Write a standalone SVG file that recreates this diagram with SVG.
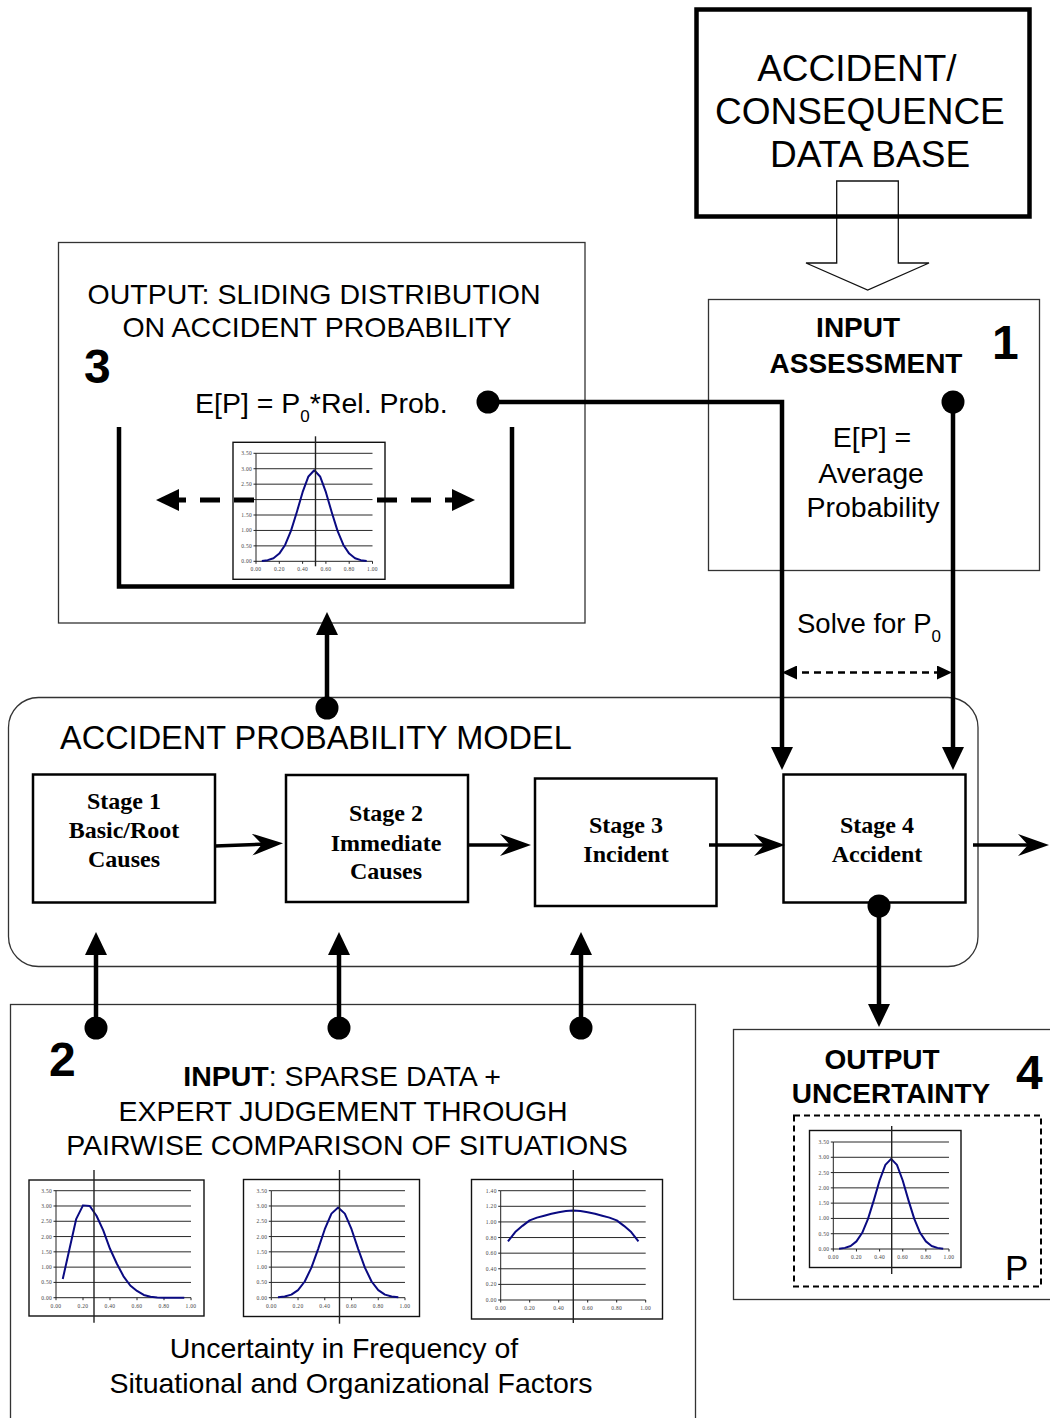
<svg xmlns="http://www.w3.org/2000/svg" width="1050" height="1418" viewBox="0 0 1050 1418">
  <style>
    .sans { font-family: "Liberation Sans", Arial, sans-serif; fill: #000; }
    .bold { font-weight: bold; }
    .stage-txt { font-family: "Liberation Serif", "Times New Roman", serif; font-weight: bold; font-size: 24px; fill: #000; text-anchor: middle; }
    .box { fill: none; stroke: #333; stroke-width: 1.3; }
    .stage { fill: #fff; stroke: #000; stroke-width: 2.5; }
    .conn { fill: none; stroke: #000; stroke-width: 4.5; }
    .flow { fill: none; stroke: #000; stroke-width: 3.5; marker-end: url(#barb); }
    .dot { fill: #000; }
    .frame { fill: #fff; stroke: #111; stroke-width: 1.4; }
    .grid { fill: none; stroke: #111; stroke-width: 0.9; }
    .axis { fill: none; stroke: #222; stroke-width: 1; }
    .mean { stroke: #222; stroke-width: 1.4; }
    .curve { fill: none; stroke: #0a0a82; stroke-width: 2; stroke-linejoin: round; vector-effect: non-scaling-stroke; }
    .lbl { font-family: "Liberation Serif", "Times New Roman", serif; font-size: 5.5px; fill: #444; letter-spacing: 0.3px; }
    .ly { text-anchor: end; }
    .lx { text-anchor: middle; }
  </style>
  <defs>
    <!-- solid triangular head for the thick connectors -->
    <marker id="head" viewBox="0 0 23 22" refX="11" refY="11" markerWidth="23" markerHeight="22" markerUnits="userSpaceOnUse" orient="auto">
      <path d="M0,0 L23,11 L0,22 Z" fill="#000"/>
    </marker>
    <!-- notched head for the stage-to-stage flow -->
    <marker id="barb" viewBox="0 0 31 22" refX="14" refY="11" markerWidth="31" markerHeight="22" markerUnits="userSpaceOnUse" orient="auto">
      <path d="M0,0 L31,11 L0,22 L10,11 Z" fill="#000"/>
    </marker>
    <!-- small head for the dashed "solve for" span -->
    <marker id="small" viewBox="0 0 15 14" refX="7" refY="7" markerWidth="15" markerHeight="14" markerUnits="userSpaceOnUse" orient="auto-start-reverse">
      <path d="M0,0 L15,7 L0,14 Z" fill="#000"/>
    </marker>
  </defs>

  <!-- Accident / consequence data base feeding the input assessment -->
  <g id="database">
    <polygon points="836.7,181 898.3,181 898.3,263 929,263 867.7,290 806,263 836.7,263" fill="#fff" stroke="#111" stroke-width="1.3"/>
    <rect x="696.5" y="9.5" width="333" height="207" fill="none" stroke="#000" stroke-width="4.5"/>
    <text class="sans" font-size="37" text-anchor="middle">
      <tspan x="862" y="81">ACCIDENT/</tspan>
      <tspan x="865" y="124">CONSEQUENCE</tspan>
      <tspan x="870" y="167">DATA BASE</tspan>
    </text>
  </g>

  <!-- 1: input assessment -->
  <g id="input-assessment">
    <rect class="box" x="708.5" y="299.5" width="331" height="271"/>
    <text class="sans bold" font-size="28" text-anchor="middle">
      <tspan x="862" y="337">INPUT</tspan>
      <tspan x="866" y="373">ASSESSMENT</tspan>
    </text>
    <text class="sans bold" font-size="48" x="992" y="359">1</text>
    <text class="sans" font-size="28.5" text-anchor="middle">
      <tspan x="876" y="447">E[P] =</tspan>
      <tspan x="875" y="483">Average</tspan>
      <tspan x="873" y="517">Probability</tspan>
    </text>
  </g>

  <!-- 3: output, sliding distribution -->
  <g id="output-sliding">
    <rect class="box" x="58.5" y="242.5" width="526.5" height="380.5"/>
    <text class="sans" font-size="28.5" text-anchor="middle">
      <tspan x="318" y="304">OUTPUT: SLIDING DISTRIBUTION</tspan>
      <tspan x="317" y="337">ON ACCIDENT PROBABILITY</tspan>
    </text>
    <text class="sans bold" font-size="48" x="84" y="383">3</text>
    <text class="sans" font-size="28.5" x="195" y="413">E[P] = P<tspan font-size="17" dy="9">0</tspan><tspan dy="-9">*Rel. Prob.</tspan></text>
    <path d="M119,427 V586.5 H512 V427" fill="none" stroke="#000" stroke-width="4.5"/>

    <g id="chart-sliding" transform="translate(256,561.3)">
      <rect class="frame" x="-23" y="-119" width="152" height="137"/>
      <path class="grid" d="M0,-15.43H116.5 M0,-30.86H116.5 M0,-46.29H116.5 M0,-61.71H116.5 M0,-77.14H116.5 M0,-92.57H116.5 M0,-108H116.5"/>
      <path class="axis" d="M0,0V-108 M0,0H116.5 M-2.5,0h2.5 M-2.5,-15.43h2.5 M-2.5,-30.86h2.5 M-2.5,-46.29h2.5 M-2.5,-61.71h2.5 M-2.5,-77.14h2.5 M-2.5,-92.57h2.5 M-2.5,-108h2.5 M0,0v2.5 M23.3,0v2.5 M46.6,0v2.5 M69.9,0v2.5 M93.2,0v2.5 M116.5,0v2.5"/>
      <g class="lbl ly">
        <text x="-4" y="2">0.00</text><text x="-4" y="-13.4">0.50</text><text x="-4" y="-28.9">1.00</text><text x="-4" y="-44.3">1.50</text>
        <text x="-4" y="-59.7">2.00</text><text x="-4" y="-75.1">2.50</text><text x="-4" y="-90.6">3.00</text><text x="-4" y="-106">3.50</text>
      </g>
      <g class="lbl lx">
        <text x="0" y="10">0.00</text><text x="23.3" y="10">0.20</text><text x="46.6" y="10">0.40</text><text x="69.9" y="10">0.60</text><text x="93.2" y="10">0.80</text><text x="116.5" y="10">1.00</text>
      </g>
      <!-- bell-shaped density in data units (x 0..1, y 0..3.5) -->
      <path class="curve" transform="scale(116.5,-30.857)" d="M0.05,0.011 L0.1,0.037 L0.15,0.1 L0.2,0.25 L0.25,0.53 L0.3,0.985 L0.35,1.59 L0.4,2.24 L0.45,2.75 L0.5,2.95 L0.55,2.75 L0.6,2.24 L0.65,1.59 L0.7,0.985 L0.75,0.53 L0.8,0.25 L0.85,0.1 L0.9,0.037 L0.95,0.011"/>
      <line class="mean" x1="59.5" y1="-125" x2="59.5" y2="5"/>
    </g>

    <!-- sliding direction, drawn over the chart -->
    <path d="M254,500 H168" fill="none" stroke="#000" stroke-width="5" stroke-dasharray="20 14" marker-end="url(#head)"/>
    <path d="M377,500 H463" fill="none" stroke="#000" stroke-width="5" stroke-dasharray="20 14" marker-end="url(#head)"/>
  </g>

  <!-- accident probability model with its four stages -->
  <g id="model">
    <rect class="box" x="8.5" y="697.5" width="969.5" height="269" rx="30" ry="30"/>
    <text class="sans" font-size="32.5" x="60" y="749">ACCIDENT PROBABILITY MODEL</text>
  </g>
  <g id="stage1">
    <rect class="stage" x="33" y="774.5" width="182" height="128"/>
    <text class="stage-txt"><tspan x="124" y="809">Stage 1</tspan><tspan x="124" y="838">Basic/Root</tspan><tspan x="124" y="867">Causes</tspan></text>
  </g>
  <g id="stage2">
    <rect class="stage" x="286" y="775" width="182" height="127"/>
    <text class="stage-txt"><tspan x="386" y="821">Stage 2</tspan><tspan x="386" y="851">Immediate</tspan><tspan x="386" y="879">Causes</tspan></text>
  </g>
  <g id="stage3">
    <rect class="stage" x="535" y="778.5" width="181.5" height="127.5"/>
    <text class="stage-txt"><tspan x="626" y="833">Stage 3</tspan><tspan x="626" y="862">Incident</tspan></text>
  </g>
  <g id="stage4">
    <rect class="stage" x="783.5" y="774.5" width="182" height="128"/>
    <text class="stage-txt"><tspan x="877" y="833">Stage 4</tspan><tspan x="877" y="862">Accident</tspan></text>
  </g>

  <!-- 2: sparse data and expert judgement -->
  <g id="input-sparse">
    <rect class="box" x="10.5" y="1004.5" width="685" height="430"/>
    <text class="sans bold" font-size="48" x="49" y="1076">2</text>
    <text class="sans" font-size="28.5" text-anchor="middle">
      <tspan x="346" y="1086"><tspan font-weight="bold">INPUT</tspan>: SPARSE DATA +</tspan>
      <tspan x="347" y="1121">EXPERT JUDGEMENT THROUGH</tspan>
      <tspan x="347" y="1155">PAIRWISE COMPARISON OF SITUATIONS</tspan>
    </text>

    <g id="chart-root" transform="translate(56,1297.7)">
      <rect class="frame" x="-27" y="-117.7" width="175" height="136"/>
      <path class="grid" d="M0,-15.29H135 M0,-30.57H135 M0,-45.86H135 M0,-61.14H135 M0,-76.43H135 M0,-91.71H135 M0,-107H135"/>
      <path class="axis" d="M0,0V-107 M0,0H135 M-2.5,0h2.5 M-2.5,-15.29h2.5 M-2.5,-30.57h2.5 M-2.5,-45.86h2.5 M-2.5,-61.14h2.5 M-2.5,-76.43h2.5 M-2.5,-91.71h2.5 M-2.5,-107h2.5 M0,0v2.5 M27,0v2.5 M54,0v2.5 M81,0v2.5 M108,0v2.5 M135,0v2.5"/>
      <g class="lbl ly">
        <text x="-4" y="2">0.00</text><text x="-4" y="-13.3">0.50</text><text x="-4" y="-28.6">1.00</text><text x="-4" y="-43.9">1.50</text>
        <text x="-4" y="-59.1">2.00</text><text x="-4" y="-74.4">2.50</text><text x="-4" y="-89.7">3.00</text><text x="-4" y="-105">3.50</text>
      </g>
      <g class="lbl lx">
        <text x="0" y="10">0.00</text><text x="27" y="10">0.20</text><text x="54" y="10">0.40</text><text x="81" y="10">0.60</text><text x="108" y="10">0.80</text><text x="135" y="10">1.00</text>
      </g>
      <path class="curve" transform="scale(135,-30.571)" d="M0.05,0.61 L0.15,2.58 L0.2,3.02 L0.25,3.0 L0.3,2.68 L0.35,2.2 L0.4,1.6 L0.45,1.12 L0.5,0.7 L0.55,0.4 L0.6,0.22 L0.65,0.09 L0.7,0.03 L0.75,0.01 L0.8,0 L0.95,0"/>
      <line class="mean" x1="38" y1="-127.7" x2="38" y2="25"/>
    </g>

    <g id="chart-immediate" transform="translate(271.3,1297.7)">
      <rect class="frame" x="-27.8" y="-118.2" width="176" height="137"/>
      <path class="grid" d="M0,-15.29H133.7 M0,-30.57H133.7 M0,-45.86H133.7 M0,-61.14H133.7 M0,-76.43H133.7 M0,-91.71H133.7 M0,-107H133.7"/>
      <path class="axis" d="M0,0V-107 M0,0H133.7 M-2.5,0h2.5 M-2.5,-15.29h2.5 M-2.5,-30.57h2.5 M-2.5,-45.86h2.5 M-2.5,-61.14h2.5 M-2.5,-76.43h2.5 M-2.5,-91.71h2.5 M-2.5,-107h2.5 M0,0v2.5 M26.74,0v2.5 M53.48,0v2.5 M80.22,0v2.5 M106.96,0v2.5 M133.7,0v2.5"/>
      <g class="lbl ly">
        <text x="-4" y="2">0.00</text><text x="-4" y="-13.3">0.50</text><text x="-4" y="-28.6">1.00</text><text x="-4" y="-43.9">1.50</text>
        <text x="-4" y="-59.1">2.00</text><text x="-4" y="-74.4">2.50</text><text x="-4" y="-89.7">3.00</text><text x="-4" y="-105">3.50</text>
      </g>
      <g class="lbl lx">
        <text x="0" y="10">0.00</text><text x="26.74" y="10">0.20</text><text x="53.48" y="10">0.40</text><text x="80.22" y="10">0.60</text><text x="106.96" y="10">0.80</text><text x="133.7" y="10">1.00</text>
      </g>
      <path class="curve" transform="scale(133.7,-30.571)" d="M0.05,0.011 L0.1,0.037 L0.15,0.1 L0.2,0.25 L0.25,0.53 L0.3,0.985 L0.35,1.59 L0.4,2.24 L0.45,2.75 L0.5,2.95 L0.55,2.75 L0.6,2.24 L0.65,1.59 L0.7,0.985 L0.75,0.53 L0.8,0.25 L0.85,0.1 L0.9,0.037 L0.95,0.011"/>
      <line class="mean" x1="68.2" y1="-127.7" x2="68.2" y2="26"/>
    </g>

    <g id="chart-incident" transform="translate(500.7,1300)">
      <rect class="frame" x="-29.2" y="-120.5" width="191" height="139.5"/>
      <path class="grid" d="M0,-15.61H145 M0,-31.23H145 M0,-46.84H145 M0,-62.46H145 M0,-78.07H145 M0,-93.69H145 M0,-109.3H145"/>
      <path class="axis" d="M0,0V-109.3 M0,0H145 M-2.5,0h2.5 M-2.5,-15.61h2.5 M-2.5,-31.23h2.5 M-2.5,-46.84h2.5 M-2.5,-62.46h2.5 M-2.5,-78.07h2.5 M-2.5,-93.69h2.5 M-2.5,-109.3h2.5 M0,0v2.5 M29,0v2.5 M58,0v2.5 M87,0v2.5 M116,0v2.5 M145,0v2.5"/>
      <g class="lbl ly">
        <text x="-4" y="2">0.00</text><text x="-4" y="-13.6">0.20</text><text x="-4" y="-29.2">0.40</text><text x="-4" y="-44.8">0.60</text>
        <text x="-4" y="-60.5">0.80</text><text x="-4" y="-76.1">1.00</text><text x="-4" y="-91.7">1.20</text><text x="-4" y="-107.3">1.40</text>
      </g>
      <g class="lbl lx">
        <text x="0" y="10">0.00</text><text x="29" y="10">0.20</text><text x="58" y="10">0.40</text><text x="87" y="10">0.60</text><text x="116" y="10">0.80</text><text x="145" y="10">1.00</text>
      </g>
      <path class="curve" transform="scale(145,-78.07)" d="M0.05,0.75 L0.1,0.87 L0.15,0.95 L0.2,1.02 L0.25,1.055 L0.3,1.08 L0.35,1.105 L0.4,1.125 L0.45,1.14 L0.5,1.145 L0.55,1.14 L0.6,1.125 L0.65,1.105 L0.7,1.08 L0.75,1.055 L0.8,1.02 L0.85,0.95 L0.9,0.87 L0.95,0.75"/>
      <line class="mean" x1="72.6" y1="-130" x2="72.6" y2="23"/>
    </g>

    <text class="sans" font-size="28.5" text-anchor="middle">
      <tspan x="348" y="1358">Uncertainty in Frequency of</tspan>
      <tspan x="351" y="1393">Situational and Organizational Factors</tspan>
    </text>
  </g>

  <!-- 4: output uncertainty -->
  <g id="output-uncertainty">
    <rect class="box" x="733.5" y="1029.5" width="330" height="270"/>
    <text class="sans bold" font-size="28" text-anchor="middle">
      <tspan x="886" y="1069">OUTPUT</tspan>
      <tspan x="891" y="1103">UNCERTAINTY</tspan>
    </text>
    <text class="sans bold" font-size="48" x="1016" y="1089">4</text>
    <rect x="794" y="1115.5" width="247" height="171" fill="none" stroke="#000" stroke-width="2" stroke-dasharray="6 4"/>
    <g id="chart-uncertainty" transform="translate(833.3,1249)">
      <rect class="frame" x="-23.8" y="-118.5" width="151.5" height="137"/>
      <path class="grid" d="M0,-15.29H115.7 M0,-30.57H115.7 M0,-45.86H115.7 M0,-61.14H115.7 M0,-76.43H115.7 M0,-91.71H115.7 M0,-107H115.7"/>
      <path class="axis" d="M0,0V-107 M0,0H115.7 M-2.5,0h2.5 M-2.5,-15.29h2.5 M-2.5,-30.57h2.5 M-2.5,-45.86h2.5 M-2.5,-61.14h2.5 M-2.5,-76.43h2.5 M-2.5,-91.71h2.5 M-2.5,-107h2.5 M0,0v2.5 M23.14,0v2.5 M46.28,0v2.5 M69.42,0v2.5 M92.56,0v2.5 M115.7,0v2.5"/>
      <g class="lbl ly">
        <text x="-4" y="2">0.00</text><text x="-4" y="-13.3">0.50</text><text x="-4" y="-28.6">1.00</text><text x="-4" y="-43.9">1.50</text>
        <text x="-4" y="-59.1">2.00</text><text x="-4" y="-74.4">2.50</text><text x="-4" y="-89.7">3.00</text><text x="-4" y="-105">3.50</text>
      </g>
      <g class="lbl lx">
        <text x="0" y="10">0.00</text><text x="23.14" y="10">0.20</text><text x="46.28" y="10">0.40</text><text x="69.42" y="10">0.60</text><text x="92.56" y="10">0.80</text><text x="115.7" y="10">1.00</text>
      </g>
      <path class="curve" transform="scale(115.7,-30.571)" d="M0.05,0.011 L0.1,0.037 L0.15,0.1 L0.2,0.25 L0.25,0.53 L0.3,0.985 L0.35,1.59 L0.4,2.24 L0.45,2.75 L0.5,2.95 L0.55,2.75 L0.6,2.24 L0.65,1.59 L0.7,0.985 L0.75,0.53 L0.8,0.25 L0.85,0.1 L0.9,0.037 L0.95,0.011"/>
      <line class="mean" x1="58.4" y1="-123" x2="58.4" y2="25"/>
    </g>
    <text class="sans" font-size="35" x="1005" y="1280">P</text>
  </g>

  <!-- connectors -->
  <g id="connectors">
    <path class="conn" d="M488,402 H782 V758" marker-end="url(#head)"/>
    <path class="conn" d="M953,402 V758" marker-end="url(#head)"/>
    <path class="conn" d="M327,708 V624" marker-end="url(#head)"/>
    <path class="conn" d="M879,906 V1015" marker-end="url(#head)"/>
    <path class="conn" d="M96,1028 V944" marker-end="url(#head)"/>
    <path class="conn" d="M339,1028 V944" marker-end="url(#head)"/>
    <path class="conn" d="M581,1028 V944" marker-end="url(#head)"/>
    <path class="flow" d="M215,846 L266,844"/>
    <path class="flow" d="M468,845 H514"/>
    <path class="flow" d="M709,845 H768"/>
    <path class="flow" d="M973,845 H1032"/>
    <path d="M790,672.5 H944" fill="none" stroke="#000" stroke-width="2.5" stroke-dasharray="7 5" marker-start="url(#small)" marker-end="url(#small)"/>
    <circle class="dot" cx="488" cy="402" r="11.5"/>
    <circle class="dot" cx="953" cy="402" r="11.5"/>
    <circle class="dot" cx="327" cy="708" r="11.5"/>
    <circle class="dot" cx="879" cy="906" r="11.5"/>
    <circle class="dot" cx="96" cy="1028" r="11.5"/>
    <circle class="dot" cx="339" cy="1028" r="11.5"/>
    <circle class="dot" cx="581" cy="1028" r="11.5"/>
    <text class="sans" font-size="27.5" x="797" y="633">Solve for P<tspan font-size="17" dy="9">0</tspan></text>
  </g>
</svg>
